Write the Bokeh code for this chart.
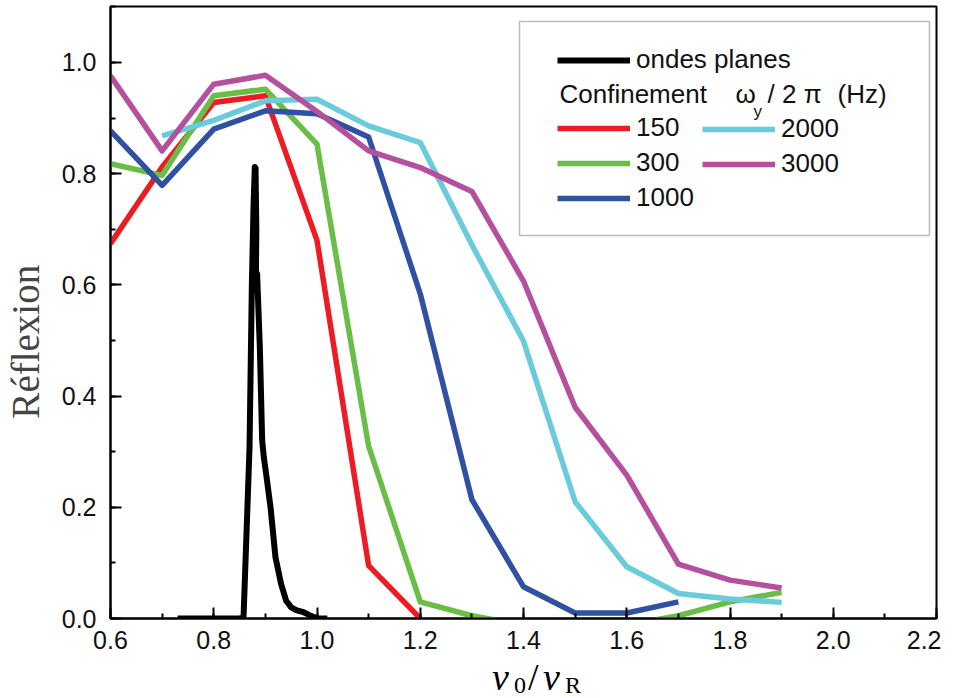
from bokeh.plotting import figure
from bokeh.models import (SingleIntervalTicker, PrintfTickFormatter, Legend, LegendItem,
                          Label, BoxAnnotation, Range1d, Div)
from bokeh.layouts import column
from bokeh.embed import file_html
from bokeh.resources import INLINE

# ---------------- data ----------------
x_150 = [0.6, 0.7, 0.8, 0.9, 1.0, 1.1, 1.2]
r_150 = [0.674, 0.812, 0.928, 0.94, 0.68, 0.095, 0.0]

x_300 = [0.6, 0.7, 0.8, 0.9, 1.0, 1.1, 1.2, 1.3, 1.4, 1.5, 1.6, 1.7, 1.8, 1.9]
r_300 = [0.818, 0.797, 0.94, 0.952, 0.853, 0.31, 0.03, 0.005, -0.012, -0.012, -0.012, 0.005, 0.03, 0.047]

x_1000 = [0.6, 0.7, 0.8, 0.9, 1.0, 1.1, 1.2, 1.3, 1.4, 1.5, 1.6, 1.7]
r_1000 = [0.877, 0.779, 0.88, 0.913, 0.908, 0.866, 0.584, 0.214, 0.057, 0.01, 0.01, 0.03]

x_2000 = [0.7, 0.8, 0.9, 1.0, 1.1, 1.2, 1.3, 1.4, 1.5, 1.6, 1.7, 1.8, 1.9]
r_2000 = [0.868, 0.896, 0.931, 0.934, 0.886, 0.856, 0.672, 0.499, 0.21, 0.093, 0.045, 0.035, 0.029]

x_3000 = [0.6, 0.7, 0.8, 0.9, 1.0, 1.1, 1.2, 1.3, 1.4, 1.5, 1.6, 1.7, 1.8, 1.9]
r_3000 = [0.976, 0.841, 0.961, 0.977, 0.912, 0.841, 0.811, 0.768, 0.607, 0.38, 0.258, 0.098, 0.069, 0.055]

# plane waves ("ondes planes")
x_pw = [0.73, 0.80, 0.850, 0.8577, 0.8641, 0.8693, 0.8738, 0.877, 0.8795, 0.881, 0.8825, 0.8815,
        0.884, 0.8893, 0.8938, 0.897, 0.9015, 0.910, 0.9196, 0.9305, 0.9402, 0.950, 0.9595, 0.972,
        0.9855, 1.0015, 1.02]
r_pw = [0.0, 0.0, 0.0, 0.002, 0.17, 0.307, 0.60, 0.74, 0.812, 0.81, 0.70, 0.60,
        0.62, 0.487, 0.32, 0.29, 0.26, 0.20, 0.11, 0.062, 0.032, 0.02, 0.015, 0.012,
        0.006, 0.0, 0.0]

series = [
    ("150", x_150, r_150, "#ED1C24"),
    ("300", x_300, r_300, "#6ABD45"),
    ("1000", x_1000, r_1000, "#3050A2"),
    ("2000", x_2000, r_2000, "#6ACCDA"),
    ("3000", x_3000, r_3000, "#B5509F"),
]

tick_interval = 0.2

# ---------------- figure ----------------
p = figure(width=936, height=660, frame_width=826, frame_height=612,
           min_border_left=105, min_border_right=5, min_border_top=6, min_border_bottom=42,
           output_backend="svg", toolbar_location=None,
           x_range=Range1d(0.6, 2.2), y_range=Range1d(0.0, 1.1007))
p.background_fill_color = "white"
p.border_fill_color = "white"
p.grid.visible = False
p.outline_line_color = "black"
p.outline_line_width = 2

rend = {}
rend["pw"] = p.line(x_pw, r_pw, line_color="black", line_width=6, line_join="round")
for name, xs, ys, col in series:
    rend[name] = p.line(xs, ys, line_color=col, line_width=5.5, line_join="round")

for ax in (p.xaxis[0], p.yaxis[0]):
    ax.ticker = SingleIntervalTicker(interval=tick_interval, num_minor_ticks=2)
    ax.formatter = PrintfTickFormatter(format="%.1f")
    ax.axis_line_width = 2
    ax.axis_line_color = "black"
    ax.major_tick_in = 11
    ax.major_tick_out = 0
    ax.minor_tick_in = 5
    ax.minor_tick_out = 0
    ax.major_tick_line_width = 2
    ax.minor_tick_line_width = 2
    ax.major_label_text_font = "Liberation Sans"
    ax.major_label_text_font_size = "25px"
    ax.major_label_text_color = "#111111"

p.xaxis.major_label_standoff = 12
p.yaxis.major_label_standoff = 14
p.yaxis.axis_label = "Réflexion" + "\u00a0" * 6
p.yaxis.axis_label_text_font = "Liberation Serif"
p.yaxis.axis_label_text_font_style = "normal"
p.yaxis.axis_label_text_font_size = "39px"
p.yaxis.axis_label_standoff = 12

# legend frame
p.add_layout(BoxAnnotation(left=1.3923, right=2.1864, top=1.0737, bottom=0.6888,
                           fill_alpha=0, line_color="#222222", line_width=1.5, level="overlay"))

def mk_legend(items, vx, vy):
    lg = Legend(items=items, location=(vx, vy), orientation="vertical",
                padding=0, margin=0, spacing=4,
                glyph_width=73, glyph_height=30, label_height=30, label_standoff=6,
                label_text_font="Liberation Sans", label_text_font_size="26px",
                label_text_color="#111111",
                border_line_alpha=0, background_fill_alpha=0)
    p.add_layout(lg)
    return lg

mk_legend([LegendItem(label="ondes planes", renderers=[rend["pw"]])], 447, 543)
mk_legend([LegendItem(label=n, renderers=[rend[n]]) for n in ("150", "300", "1000")], 447, 405)
mk_legend([LegendItem(label=n, renderers=[rend[n]]) for n in ("2000", "3000")], 592, 439)

sans = "Liberation Sans"
for txt, sx, sy, size, base in [("Confinement", 449, 525, "26px", "middle"),
                                 ("ω", 625, 525, "26px", "middle"),
                                 ("y", 643, 507, "17px", "alphabetic"),
                                 ("/ 2 π", 657, 525, "26px", "middle"),
                                 ("(Hz)", 727, 525, "26px", "middle")]:
    p.add_layout(Label(x=sx, y=sy, x_units="screen", y_units="screen", text=txt,
                       text_font=sans, text_font_size=size, text_baseline=base,
                       text_align="left", text_color="#111111"))

# x-axis label  v0/vR  as real HTML text under the plot
def piece(txt, left, top, size, lh, italic):
    st = "italic" if italic else "normal"
    return (f'<span style="position:absolute;left:{left}px;top:{top}px;font-size:{size}px;'
            f'line-height:{lh}px;font-style:{st}">{txt}</span>')

pieces = "".join([
    piece("v", 487, 0, 38, 24, True),
    piece("0", 509, 10, 24, 20, False),
    piece("/", 523, 0, 38, 24, False),
    piece("v", 538, 0, 38, 24, True),
    piece("R", 560, 10, 24, 20, False),
])
xlabel = Div(
    text=('<div style="position:relative;height:36px;width:936px;white-space:nowrap;'
          'font-family:\'Liberation Serif\';color:black">' + pieces + '</div>'),
    width=936, height=36)

layout = column(p, xlabel, spacing=0)
open("out.html", "w").write(file_html(layout, INLINE))
